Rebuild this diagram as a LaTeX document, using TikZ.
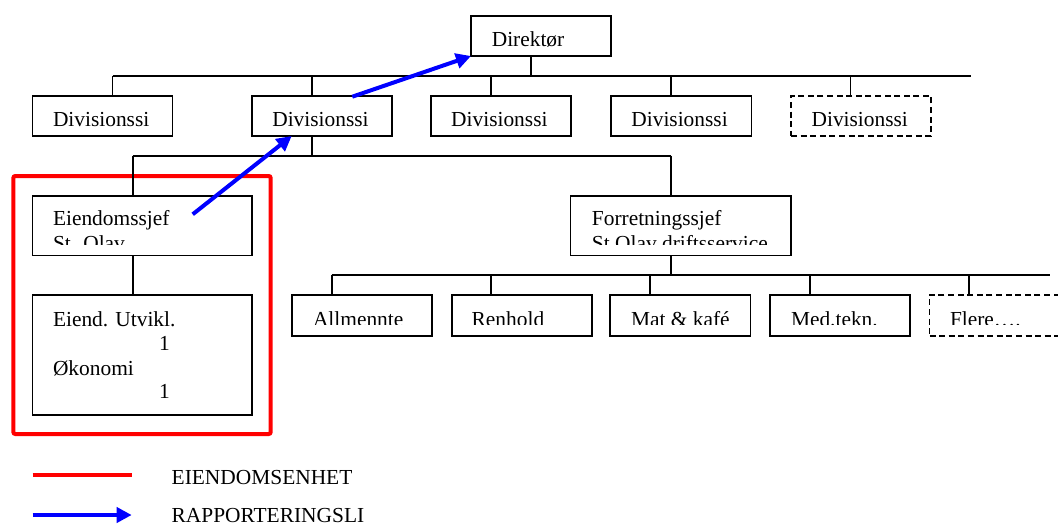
\documentclass[tikz,border=0pt]{standalone}
\usepackage{fontspec}
\setmainfont{Liberation Serif}
\usetikzlibrary{arrows.meta}
\definecolor{pred}{RGB}{255,0,0}
\definecolor{pblue}{RGB}{0,0,255}
\newcommand\mybox[6]{\node[boxst,#6,minimum width={(#4-#2)*0.5pt},minimum height={(#5-#3)*0.5pt}] (#1) at ({(#2+#4)/2},{(#3+#5)/2}) {};}
\tikzset{
  boxst/.style={draw=black,line width=0.85pt,inner sep=0pt,outer sep=0pt,rectangle},
  dashbox/.style={dash pattern=on 3pt off 1.8pt},
  frame/.style={draw=pred,line width=2pt,rounded corners=1pt},
  conn/.style={draw=black,line width=0.85pt},
  txt/.style={anchor=base west,inner sep=0pt,outer sep=0pt,font=\fontsize{10.7}{12}\selectfont},
  rep/.style={draw=pblue,line width=2pt,-{Triangle[length=7.5pt,width=7.5pt]}},
}
\begin{document}
\begin{tikzpicture}[x=0.5pt,y=-0.5pt]
\useasboundingbox (0,0) rectangle (1058,525);
\clip (0,0) rectangle (1058,525);
% boxes
\mybox{dir}{471}{16}{611}{56}{}
\mybox{d1}{32.4}{96}{172.4}{136}{}
\mybox{d2}{252.3}{96}{391.7}{136}{}
\mybox{d3}{431}{96}{571.2}{136}{}
\mybox{d4}{610.8}{96}{751.4}{136}{}
\mybox{d5}{791}{96}{931.2}{136}{dashbox}
\mybox{es}{32.4}{196}{251.7}{255.5}{}
\mybox{fs}{570.6}{196}{791}{255.5}{}
\mybox{eu}{32.4}{295}{251.7}{415}{}
\mybox{l1}{292}{295}{432}{336}{}
\mybox{l2}{452}{295}{592}{336}{}
\mybox{l3}{610.1}{295}{750.5}{336}{}
\mybox{l4}{769.7}{295}{909.8}{336}{}
\mybox{l5}{929.5}{295}{1070}{336}{dashbox}
\mybox{unit}{13.3}{176}{270.7}{434}{frame}
% top bus
\coordinate (tb) at (531,76);
\coordinate (tbl) at (112.6,76);
\coordinate (tbr) at (971,76);
\coordinate (t2) at (311.7,76);
\coordinate (t3) at (490.7,76);
\coordinate (t4) at (671.3,76);
\coordinate (t5) at (850.4,76);
\draw[conn] (dir.south -| tb) -- (tb);
\draw[conn] (tbl) -- (tbr);
\draw[conn] (tbl) -- (tbl |- d1.north);
\draw[conn] (t2) -- (t2 |- d2.north);
\draw[conn] (t3) -- (t3 |- d3.north);
\draw[conn] (t4) -- (t4 |- d4.north);
\draw[conn] (t5) -- (t5 |- d5.north);
% second bus
\coordinate (sb) at (311.7,155.7);
\coordinate (sbl) at (132.7,155.7);
\coordinate (sbr) at (671.3,155.7);
\draw[conn] (sb |- d2.south) -- (sb);
\draw[conn] (sbl) -- (sbr);
\draw[conn] (sbl) -- (sbl |- es.north);
\draw[conn] (sbr) -- (sbr |- fs.north);
\draw[conn] (sbl |- es.south) -- (sbl |- eu.north);
% lower bus
\coordinate (lb) at (671,275);
\coordinate (lbl) at (331.7,275);
\coordinate (lbr) at (1049.5,275);
\coordinate (u2) at (491,275);
\coordinate (u3) at (650.2,275);
\coordinate (u4) at (809.8,275);
\coordinate (u5) at (969.3,275);
\draw[conn] (lb |- fs.south) -- (lb);
\draw[conn] (lbl) -- (lbr);
\draw[conn] (lbl) -- (lbl |- l1.north);
\draw[conn] (u2) -- (u2 |- l2.north);
\draw[conn] (u3) -- (u3 |- l3.north);
\draw[conn] (u4) -- (u4 |- l4.north);
\draw[conn] (u5) -- (u5 |- l5.north);
% texts
\node[txt] (tdir) at (491.8,46.7) {Direktør};
\node[txt] (td1) at (53,126) {Divisionssi};
\node[txt] (td2) at (272.3,126) {Divisionssi};
\node[txt] (td3) at (451.2,126) {Divisionssi};
\node[txt] (td4) at (631.4,126) {Divisionssi};
\node[txt] (td5) at (811.6,126) {Divisionssi};
\begin{scope}
\clip (32.4,196) rectangle (791,244.5);
\node[txt] (tes1) at (53,225.7) {Eiendomssjef};
\node[txt] (tes2) at (53,250.2) {St. Olav};
\node[txt] (tfs1) at (591.9,225.7) {Forretningssjef};
\node[txt] (tfs2) at (591.9,250.2) {St Olav driftsservice};
\end{scope}
\node[txt] (teu1) at (53,326) {Eiend. Utvikl.};
\node[txt] (teu2) at (159,350) {1};
\node[txt] (teu3) at (53,375) {Økonomi};
\node[txt] (teu4) at (159,398.5) {1};
\begin{scope}
\clip (292,295) rectangle (1058,324.8);
\node[txt] (tl1) at (313,326) {Allmennte};
\node[txt] (tl2) at (471.7,326) {Renhold};
\node[txt] (tl3) at (631,326) {Mat \& kafé};
\node[txt] (tl4) at (791,326) {Med.tekn.};
\node[txt] (tl5) at (950,326) {Flere….};
\end{scope}
% reporting arrows
\coordinate (a1s) at (352.3,96.7);
\coordinate (a2s) at (192.7,214.3);
\coordinate (a2e) at (291.7,136);
\draw[rep] (a1s) -- (dir.south west);
\draw[rep] (a2s) -- (a2e);
% legend
\coordinate (la1) at (32.7,475);
\coordinate (lb1) at (131.7,475);
\coordinate (la2) at (32.7,515);
\coordinate (lb2) at (131.7,515);
\draw[draw=pred,line width=2pt] (la1) -- (lb1);
\draw[rep] (la2) -- (lb2);
\node[txt] (leg1) at (171.7,484.3) {EIENDOMSENHET};
\node[txt] (leg2) at (171.7,522.8) {RAPPORTERINGSLI};
\end{tikzpicture}
\end{document}
